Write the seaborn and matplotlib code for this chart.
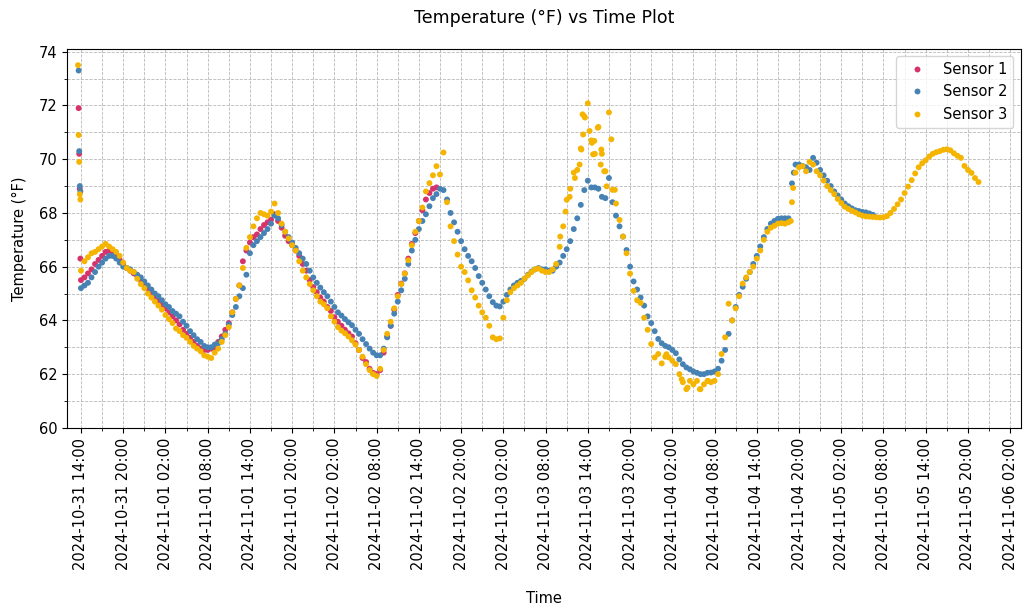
import matplotlib
matplotlib.use("Agg")
import matplotlib.pyplot as plt
import matplotlib.dates as mdates
from matplotlib.ticker import MultipleLocator
import numpy as np
import pandas as pd
import seaborn as sns

# ---------------- data ----------------
START = "2024-10-31 14:00"
STEP = "30min"

sensor1_temps = [
    65.5, 65.6, 65.75, 65.9, 66.1, 66.25, 66.4, 66.55, 66.6, 66.55,
    66.4, 66.25, 66.1, 65.95, 65.85, 65.75, 65.65, 65.5, 65.35, 65.2,
    65.05, 64.9, 64.75, 64.6, 64.45, 64.3, 64.15, 64.0, 63.85, 63.65,
    63.5, 63.35, 63.2, 63.05, 62.95, 62.9, 62.9, 62.95, 63.0, 63.2,
    63.4, 63.65, 63.9, 64.3, 64.8, 65.3, 66.2, 66.6, 66.9, 67.1,
    67.2, 67.4, 67.55, 67.65, 67.75, 67.95, 67.7, 67.45, 67.15, 66.95,
    66.8, 66.6, 66.4, 66.1, 65.85, 65.5, 65.24, 65.05, 64.85, 64.7,
    64.5, 64.35, 64.12, 63.95, 63.8, 63.65, 63.52, 63.4, 63.15, 62.9,
    62.6, 62.45, 62.2, 62.05, 62.0, 62.15, 62.8, 63.4, 63.8, 64.4,
    64.95, 65.37, 65.75, 66.3, 66.85, 67.25, 67.7, 68.1, 68.5, 68.74,
    68.9, 68.95,
]

sensor2_temps = [
    65.2, 65.3, 65.4, 65.6, 65.8, 66.0, 66.15, 66.3, 66.4, 66.4,
    66.3, 66.15, 66.0, 65.95, 65.9, 65.8, 65.7, 65.6, 65.45, 65.3,
    65.15, 65.0, 64.9, 64.75, 64.6, 64.5, 64.35, 64.25, 64.15, 63.95,
    63.8, 63.6, 63.45, 63.3, 63.2, 63.05, 63.0, 63.0, 63.1, 63.15,
    63.3, 63.5, 63.85, 64.2, 64.5, 64.9, 65.2, 65.7, 66.5, 66.8,
    66.95, 67.1, 67.25, 67.4, 67.6, 67.9, 67.8, 67.55, 67.3, 67.1,
    66.9, 66.7, 66.5, 66.3, 66.1, 65.85, 65.6, 65.4, 65.22, 65.05,
    64.9, 64.7, 64.5, 64.3, 64.18, 64.05, 63.93, 63.82, 63.65, 63.5,
    63.3, 63.12, 62.95, 62.8, 62.7, 62.7, 62.95, 63.37, 63.8, 64.25,
    64.7, 65.12, 65.55, 66.1, 66.6, 67.0, 67.4, 67.7, 67.95, 68.25,
    68.55, 68.7, 68.9, 68.85, 68.5, 68.0, 67.65, 67.3, 66.95, 66.65,
    66.4, 66.2, 65.95, 65.65, 65.4, 65.15, 64.9, 64.68, 64.55, 64.52,
    64.7, 64.95, 65.15, 65.3, 65.4, 65.47, 65.55, 65.7, 65.82, 65.9,
    65.95, 65.9, 65.9, 65.85, 65.85, 66.0, 66.15, 66.4, 66.65, 66.95,
    67.4, 67.8, 68.3, 68.85, 69.2, 68.95, 68.95, 68.9, 68.6, 68.55,
    69.3, 68.4, 67.9, 67.5, 67.12, 66.62, 66.0, 65.45, 65.15, 64.85,
    64.55, 64.15, 63.9, 63.6, 63.31, 63.15, 63.05, 63.0, 62.9, 62.78,
    62.55, 62.37, 62.25, 62.18, 62.1, 62.05, 62.0, 62.0, 62.05, 62.06,
    62.1, 62.2, 62.5, 62.9, 63.5, 64.0, 64.5, 64.95, 65.25, 65.55,
    65.8, 66.1, 66.4, 66.75, 67.1, 67.4, 67.6, 67.7, 67.78, 67.8,
    67.8, 67.8, 69.1, 69.8, 69.8, 69.75, 69.7, 69.6, 70.05, 69.87,
    69.6, 69.4, 69.2, 69.0, 68.8, 68.65, 68.5, 68.35, 68.25, 68.17,
    68.1, 68.07, 68.04, 68.02, 67.98, 67.93,
]

sensor3_temps = [
    65.85, 66.2, 66.35, 66.5, 66.55, 66.65, 66.75, 66.85, 66.75, 66.65,
    66.55, 66.4, 66.15, 65.95, 65.85, 65.8, 65.55, 65.35, 65.2, 65.0,
    64.85, 64.7, 64.55, 64.4, 64.2, 64.05, 63.9, 63.7, 63.6, 63.45,
    63.35, 63.2, 63.05, 62.95, 62.85, 62.7, 62.65, 62.6, 62.8, 62.95,
    63.2, 63.45, 63.75, 64.3, 64.8, 65.3, 65.95, 66.7, 67.1, 67.5,
    67.8, 68.0, 67.95, 67.9, 68.05, 68.35, 68.0, 67.6, 67.3, 67.05,
    66.8, 66.6, 66.2, 65.85, 65.6, 65.35, 65.12, 64.9, 64.7, 64.6,
    64.45, 64.15, 63.95, 63.75, 63.62, 63.52, 63.4, 63.26, 63.1, 62.9,
    62.65, 62.37, 62.15, 62.0, 61.93, 62.2, 62.9, 63.5, 63.95, 64.45,
    64.9, 65.35, 65.74, 66.24, 66.8, 67.3, 67.7, 68.2, 68.8, 69.11,
    69.4, 69.74, 69.43, 70.25, 68.4, 67.5, 66.95, 66.45, 66.0, 65.8,
    65.49, 65.12, 64.85, 64.55, 64.3, 64.1, 63.8, 63.37, 63.3, 63.33,
    64.1, 64.75, 65.05, 65.2, 65.3, 65.4, 65.55, 65.68, 65.8, 65.9,
    65.93, 65.85, 65.8, 65.8, 65.9, 66.1, 66.74, 67.5, 68.49, 68.9,
    69.5, 69.6, 70.4, 71.6, 72.08, 70.7, 70.2, 71.2, 70.2, 69.55,
    71.74, 68.86, 68.35, 67.74, 67.12, 66.5, 65.74, 65.1, 64.75, 64.65,
    64.1, 63.65, 63.12, 62.62, 62.75, 62.4, 62.65, 62.62, 62.5, 62.37,
    62.0, 61.7, 61.44, 61.75, 61.62, 61.75, 61.44, 61.62, 61.75, 61.7,
    61.75, 62.0, 62.75, 63.37, 64.62, 64.0, 64.45, 64.9, 65.37, 65.6,
    65.8, 66.0, 66.3, 66.6, 67.0, 67.3, 67.45, 67.52, 67.6, 67.62,
    67.6, 67.65, 68.4, 69.5, 69.7, 69.74, 69.55, 69.9, 69.8, 69.55,
    69.4, 69.2, 69.0, 68.85, 68.7, 68.52, 68.37, 68.23, 68.15, 68.08,
    68.02, 67.95, 67.9, 67.87, 67.86, 67.85, 67.84, 67.83, 67.84, 67.88,
    68.0, 68.15, 68.32, 68.5, 68.74, 68.98, 69.22, 69.47, 69.7, 69.85,
    69.96, 70.1, 70.2, 70.26, 70.3, 70.35, 70.37, 70.33, 70.22, 70.13,
    70.05, 69.75, 69.6, 69.49, 69.3, 69.15,
]

# additional (irregular) readings
sensor1_extra_times = ["2024-10-31 13:40", "2024-10-31 13:45", "2024-10-31 13:50", "2024-10-31 13:55"]
sensor1_extra_temps = [71.9, 70.2, 68.9, 66.3]

sensor2_extra_times = ["2024-10-31 13:40", "2024-10-31 13:45", "2024-10-31 13:50", "2024-10-31 13:55",
                       "2024-11-04 19:15"]
sensor2_extra_temps = [73.3, 70.3, 69.0, 68.8, 69.5]

sensor3_extra_times = [
    "2024-10-31 13:35", "2024-10-31 13:40", "2024-10-31 13:45", "2024-10-31 13:50", "2024-10-31 13:55",
    "2024-11-03 10:05", "2024-11-03 10:50", "2024-11-03 11:25", "2024-11-03 12:10", "2024-11-03 12:50",
    "2024-11-03 13:05", "2024-11-03 13:15", "2024-11-03 13:20", "2024-11-03 13:35", "2024-11-03 14:15",
    "2024-11-03 14:35", "2024-11-03 14:45", "2024-11-03 14:55", "2024-11-03 15:25", "2024-11-03 15:50",
    "2024-11-03 15:55", "2024-11-03 16:20", "2024-11-03 16:40", "2024-11-03 17:20", "2024-11-03 17:50",
    "2024-11-04 01:10", "2024-11-04 03:20", "2024-11-04 04:10", "2024-11-04 05:55", "2024-11-04 07:05",
    "2024-11-04 18:50", "2024-11-04 19:10",
]
sensor3_extra_temps = [
    73.5, 70.9, 69.9, 68.7, 68.5,
    67.12, 68.05, 68.6, 69.3, 69.8,
    70.36, 71.67, 70.92, 71.55, 71.05,
    70.61, 70.18, 70.68, 71.17, 69.8,
    70.36, 69.55, 68.99, 70.74, 68.86,
    62.74, 61.81, 61.5, 61.44, 61.75,
    67.7, 68.93,
]

sensor_names = ["Sensor 1", "Sensor 2", "Sensor 3"]
palette = {"Sensor 1": "#d6336c", "Sensor 2": "#4682b4", "Sensor 3": "#f4b400"}


def frame(name, temps, extra_times, extra_temps):
    t = pd.date_range(START, periods=len(temps), freq=STEP)
    main = pd.DataFrame({"Time": t, "Temperature": temps})
    extra = pd.DataFrame({"Time": pd.to_datetime(extra_times), "Temperature": extra_temps})
    d = pd.concat([extra, main]).sort_values("Time")
    d["Sensor"] = name
    return d


df = pd.concat([
    frame("Sensor 1", sensor1_temps, sensor1_extra_times, sensor1_extra_temps),
    frame("Sensor 2", sensor2_temps, sensor2_extra_times, sensor2_extra_temps),
    frame("Sensor 3", sensor3_temps, sensor3_extra_times, sensor3_extra_temps),
], ignore_index=True)

# ---------------- plot ----------------
plt.rcParams["font.family"] = ["DejaVu Sans"]
fig, ax = plt.subplots(figsize=(10.29, 6.13), dpi=100)
fig.subplots_adjust(left=0.065, right=0.992, top=0.920, bottom=0.302)

sns.scatterplot(data=df, x="Time", y="Temperature", hue="Sensor",
                hue_order=sensor_names, palette=palette, s=18, linewidth=0,
                ax=ax, zorder=3)

ax.set_xlim(pd.Timestamp("2024-10-31 12:00"), pd.Timestamp("2024-11-06 03:30"))
ax.set_ylim(60, 74.1)

ax.xaxis.set_major_locator(mdates.HourLocator(byhour=[2, 8, 14, 20]))
ax.xaxis.set_minor_locator(mdates.HourLocator(byhour=range(2, 24, 3)))
ax.xaxis.set_major_formatter(mdates.DateFormatter("%Y-%m-%d %H:%M"))
ax.yaxis.set_major_locator(MultipleLocator(2))
ax.yaxis.set_minor_locator(MultipleLocator(1))

ax.tick_params(axis="x", which="major", labelrotation=90, labelsize=10.5)
ax.tick_params(axis="y", which="major", labelsize=10.5)

ax.grid(True, which="both", linestyle="--", linewidth=0.6, color="#b8b8b8", zorder=0)
ax.set_axisbelow(True)

ax.set_title("Temperature (°F) vs Time Plot", fontsize=12.5, pad=19)
ax.set_xlabel("Time", fontsize=10.5, labelpad=15)
ax.set_ylabel("Temperature (°F)", fontsize=10.5, labelpad=8)

handles, labels = ax.get_legend_handles_labels()
ax.legend(handles, labels, loc="upper right", fontsize=10.5, title=None)

fig.savefig("out.png", dpi=100)
